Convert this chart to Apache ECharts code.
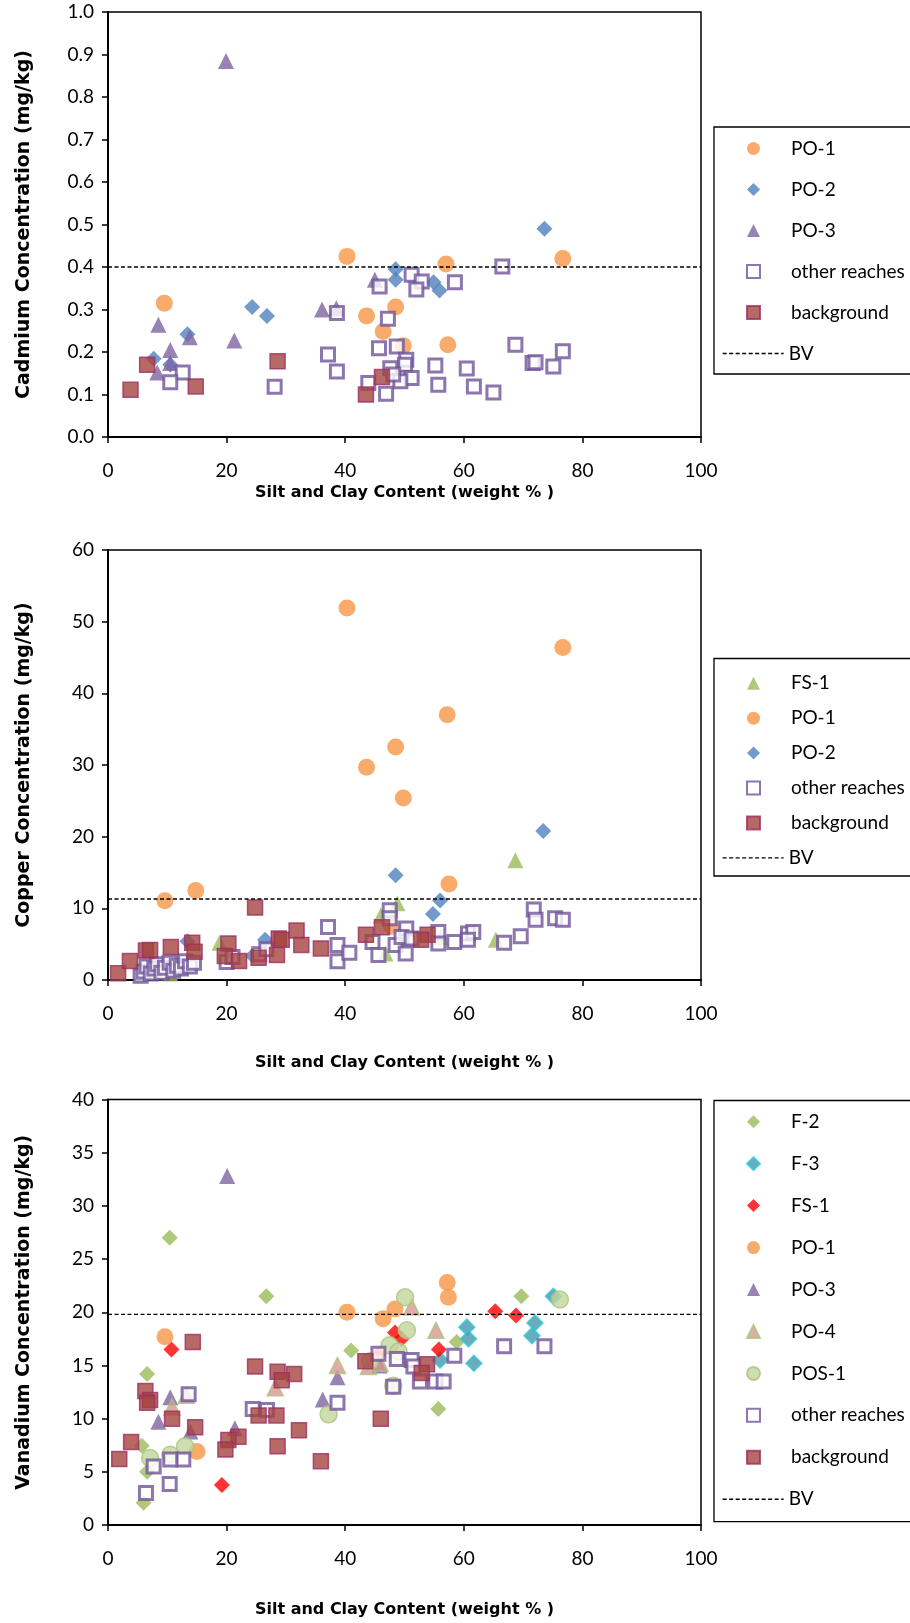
<!DOCTYPE html>
<html>
<head>
<meta charset="utf-8">
<script src="https://cdn.jsdelivr.net/npm/echarts@6.0.0/dist/echarts.min.js"></script>
<style>
  html, body { margin: 0; padding: 0; background: #fff; width: 910px; height: 1623px; overflow: hidden; }
  .panel { position: absolute; left: 0; width: 940px; }
</style>
</head>
<body>
<div id="cd" class="panel" style="top:0;height:540px"></div>
<div id="cu" class="panel" style="top:540px;height:550px"></div>
<div id="v" class="panel" style="top:1090px;height:533px"></div>
<script>
// x = silt and clay content (weight %), y = concentration (mg/kg)

// --- Cadmium ---
const cdPO1 = [[9.5,0.315],[40.3,0.425],[57.0,0.407],[76.7,0.42],[48.5,0.306],[43.6,0.285],[46.4,0.248],[49.8,0.215],[57.3,0.217]]
const cdPO2 = [[73.6,0.49],[48.5,0.395],[48.5,0.37],[54.9,0.364],[55.9,0.345],[24.3,0.306],[26.8,0.285],[13.4,0.242],[7.7,0.184],[10.5,0.17]]
const cdPO3 = [[19.9,0.885],[45.0,0.37],[36.1,0.30],[38.5,0.303],[8.5,0.264],[21.3,0.227],[13.8,0.235],[10.5,0.205],[10.5,0.174],[8.3,0.152]]
const cdOther = [[66.5,0.401],[51.2,0.382],[52.9,0.366],[52.0,0.347],[58.5,0.364],[45.8,0.354],[38.6,0.292],[47.2,0.278],
  [45.7,0.209],[48.7,0.213],[37.1,0.194],[38.6,0.154],[50.3,0.182],[50.1,0.170],[55.2,0.168],[60.5,0.161],[47.6,0.162],
  [51.2,0.139],[49.3,0.131],[43.9,0.127],[46.9,0.102],[55.7,0.123],[61.7,0.119],[65.0,0.105],[48.1,0.147],[28.1,0.118],
  [12.6,0.152],[10.5,0.129],[68.7,0.217],[76.7,0.202],[71.6,0.174],[72.1,0.176],[75.1,0.166]]
const cdBg = [[6.6,0.17],[3.8,0.111],[14.8,0.119],[28.6,0.178],[46.2,0.141],[43.5,0.1]]
const cdBV = 0.4

// --- Copper ---
const cuFS1 = [[68.7,16.7],[48.8,10.7],[18.8,5.2],[65.4,5.6],[56.1,6.0],[46.8,3.7],[10.5,0.9],[46.0,9.0]]
const cuPO1 = [[40.3,51.9],[76.7,46.4],[57.2,37.0],[48.5,32.5],[43.6,29.7],[49.8,25.4],[57.5,13.4],[14.8,12.5],[9.6,11.05],[47.8,7.5]]
const cuPO2 = [[73.4,20.8],[48.5,14.6],[56.0,11.1],[54.8,9.2],[13.4,5.4],[26.5,5.6],[24.4,3.4]]
const cuOther = [[5.5,0.6],[6.0,1.2],[6.5,1.9],[7.2,0.9],[7.8,1.6],[8.3,2.2],[9.0,1.0],[9.6,1.7],[10.4,2.4],[11.0,1.3],
  [11.6,2.0],[12.3,1.6],[13.0,2.6],[13.8,1.9],[14.5,2.4],[20.0,2.5],[21.0,3.2],[25.5,3.6],[26.7,4.3],
  [37.1,7.4],[38.7,4.9],[38.7,2.6],[40.7,3.8],[44.6,5.3],[45.6,3.5],[47.5,9.75],[47.5,8.6],[48.5,4.9],[50.2,3.7],
  [50.3,7.2],[49.5,6.0],[51.2,5.8],[55.7,6.7],[55.7,5.1],[58.4,5.3],[60.7,6.5],[61.6,6.7],[60.7,5.6],
  [66.8,5.2],[69.6,6.1],[71.8,9.85],[72.1,8.4],[75.4,8.6],[76.7,8.4]]
const cuBg = [[1.7,0.95],[3.7,2.65],[6.4,4.1],[7.1,4.2],[10.6,4.6],[14.2,5.2],[14.6,3.95],[20.3,5.1],[19.7,3.35],[22.1,2.65],
  [24.8,10.1],[25.4,3.1],[28.5,3.5],[28.8,5.8],[29.3,5.6],[31.8,6.9],[32.6,4.9],[35.9,4.4],[43.5,6.3],[46.2,7.35],[53.9,6.3],[52.8,5.6]]
const cuBV = 11.3

// --- Vanadium ---
const vF2 = [[10.4,27.0],[26.7,21.5],[69.7,21.5],[41.0,16.4],[58.8,17.2],[6.6,14.2],[55.7,10.9],[5.7,7.45],[6.6,5.0],[6.0,2.1]]
const vF3 = [[75.1,21.5],[60.5,18.6],[60.8,17.5],[72.0,19.0],[71.5,17.8],[61.7,15.2],[56.0,15.5]]
const vFS1 = [[65.3,20.1],[68.8,19.7],[48.4,18.1],[49.5,17.5],[10.7,16.5],[55.8,16.5],[45.6,16.0],[19.2,3.75]]
const vPO1 = [[57.2,22.8],[57.4,21.4],[40.3,20.0],[48.4,20.3],[46.4,19.4],[9.6,17.7],[15.0,6.9]]
const vPO3 = [[20.1,32.8],[38.7,13.9],[36.2,11.8],[10.5,12.0],[8.5,9.7],[13.9,8.8],[21.4,9.1],[45.8,15.0]]
const vPO4 = [[51.2,20.5],[55.3,18.3],[38.7,15.0],[43.9,14.9],[28.2,12.9],[13.2,12.2],[10.8,11.1],[45.9,15.2]]
const vPOS1 = [[50.1,21.4],[76.2,21.2],[50.4,18.3],[47.5,16.9],[49.0,16.3],[48.1,13.1],[37.2,10.4],[13.0,7.4],[10.5,6.6],[7.1,6.3],[44.2,15.4]]
const vOther = [[66.8,16.8],[73.6,16.8],[58.4,15.9],[45.6,16.1],[48.7,15.6],[51.2,15.5],[51.5,14.9],[52.6,13.5],[55.2,13.5],
  [56.6,13.5],[48.1,13.0],[13.6,12.3],[38.7,11.5],[24.4,10.9],[26.8,10.8],[12.7,6.15],[10.5,6.15],[7.7,5.5],[10.4,3.85],[6.4,3.0]]
const vBg = [[14.3,17.2],[24.8,14.9],[28.6,14.4],[31.4,14.2],[29.3,13.6],[43.4,15.4],[53.8,15.1],[52.9,14.3],[6.3,12.6],
  [7.1,11.75],[6.6,11.5],[10.8,10.0],[25.4,10.3],[28.4,10.3],[14.7,9.2],[32.2,8.9],[46.0,10.0],[22.0,8.3],[20.3,8.0],
  [19.8,7.1],[28.6,7.4],[3.9,7.8],[1.9,6.2],[35.9,6.0]]
const vBV = 19.8

const FONT = 'Lato, "Liberation Sans", sans-serif'
const TITLE_FONT = '"DejaVu Sans", Lato, sans-serif'
const ROW_H = 20

// marker looks (Excel default palette)
const orangeCircle = { symbol: 'circle', symbolSize: 17, itemStyle: { color: '#F79646' } }
const blueDiamond = { symbol: 'diamond', symbolSize: 16, itemStyle: { color: '#4F81BD' } }
const purpleTri = { symbol: 'triangle', symbolSize: 16, itemStyle: { color: '#8064A2' } }
const greenTri = { symbol: 'triangle', symbolSize: 16, itemStyle: { color: '#9BBB59' } }
const greenDiamond = { symbol: 'diamond', symbolSize: 16, itemStyle: { color: '#9BBB59' } }
const tealDiamond = { symbol: 'diamond', symbolSize: 16, itemStyle: { color: '#4397AE', borderColor: '#33CCDD', borderWidth: 1.5 } }
const redDiamond = { symbol: 'diamond', symbolSize: 16, itemStyle: { color: '#FF0000' } }
const pinkTri = { symbol: 'triangle', symbolSize: 16, itemStyle: { color: '#D99694', borderColor: '#A9C47F', borderWidth: 1.5 } }
const paleCircle = { symbol: 'circle', symbolSize: 17, itemStyle: { color: '#C3D69B', borderColor: '#A9C47F', borderWidth: 1.5 } }
const openSquare = { symbol: 'rect', symbolSize: 13, itemStyle: { color: '#fff', borderColor: '#6E5499', borderWidth: 3 } }
const bgSquare = { symbol: 'rect', symbolSize: 15, itemStyle: { color: '#A5443F', borderColor: '#9B2F63', borderWidth: 1.5 } }

function scatter(name, data, look) {
  return Object.assign({ name, type: 'scatter', data, silent: true }, look)
}

function bvLine(v) {
  return {
    name: 'BV', type: 'line', data: [[0, v], [100, v]], symbol: 'none', silent: true,
    lineStyle: { color: '#000', width: 1.4, type: [4, 2.5] }, itemStyle: { color: 'rgba(0,0,0,0)' },
  }
}

function makeOption(cfg) {
  const markerNames = cfg.series.filter(s => s.type === 'scatter').map(s => s.name)
  const n = markerNames.length
  const legendText = { fontFamily: FONT, fontSize: 19, color: '#000', lineHeight: ROW_H }
  return {
    animation: false,
    textStyle: { fontFamily: FONT },
    grid: {
      left: 108, top: cfg.gridTop, width: 593, height: cfg.gridHeight,
      show: true, borderColor: '#000', borderWidth: 1.5,
    },
    legend: [
      {
        // marker entries: small square icon box so symbols keep their shape
        orient: 'vertical', left: 746, top: cfg.rowTop - ROW_H / 2, padding: 0,
        data: markerNames, itemWidth: 13, itemHeight: 13, itemGap: cfg.rowStep - ROW_H,
        textStyle: Object.assign({ padding: [0, 0, 0, 26] }, legendText),
        selectedMode: false,
      },
      {
        // dashed BV entry, wider icon
        orient: 'vertical', left: 722, top: cfg.rowTop + n * cfg.rowStep - ROW_H / 2, padding: 0,
        data: ['BV'], itemWidth: 61, itemHeight: 13,
        lineStyle: { type: [4, 2.5], width: 1.3, color: '#000' },
        textStyle: legendText,
        selectedMode: false,
      },
    ],
    graphic: [{
      type: 'rect', silent: true,
      shape: { x: 714, y: cfg.boxTop, width: 240, height: cfg.boxBottom - cfg.boxTop },
      style: { fill: 'none', stroke: '#000', lineWidth: 1.3 },
    }],
    xAxis: {
      type: 'value', min: 0, max: 100, interval: 20,
      name: 'Silt and Clay Content (weight % )', nameLocation: 'middle', nameGap: cfg.xNameGap,
      nameTextStyle: { fontFamily: TITLE_FONT, fontSize: 16, fontWeight: 'bold', color: '#000' },
      axisLine: { lineStyle: { color: '#000', width: 2 } },
      axisTick: { length: 6, lineStyle: { color: '#000', width: 1.5 } },
      axisLabel: { color: '#000', fontSize: 19, margin: 24, fontFamily: FONT },
      splitLine: { show: false },
    },
    yAxis: {
      type: 'value', min: 0, max: cfg.yMax, interval: cfg.yStep,
      name: cfg.yName, nameLocation: 'middle', nameGap: 74,
      nameTextStyle: { fontFamily: TITLE_FONT, fontSize: 19, fontWeight: 'bold', color: '#000' },
      axisLine: { show: true, lineStyle: { color: '#000', width: 2 } },
      axisTick: { show: true, length: 6, lineStyle: { color: '#000', width: 1.5 } },
      axisLabel: { color: '#000', fontSize: 19, margin: 14, fontFamily: FONT, formatter: cfg.fmt },
      splitLine: { show: false },
    },
    series: cfg.series,
  }
}

const cdChart = echarts.init(document.getElementById('cd'))
cdChart.setOption(makeOption({
  gridTop: 12, gridHeight: 425, yMax: 1, yStep: 0.1, xNameGap: 44,
  yName: 'Cadmium Concentration (mg/kg)', fmt: v => v.toFixed(1),
  boxTop: 127, boxBottom: 374, rowTop: 148.5, rowStep: 41,
  series: [
    scatter('PO-1', cdPO1, orangeCircle),
    scatter('PO-2', cdPO2, blueDiamond),
    scatter('PO-3', cdPO3, purpleTri),
    scatter('other reaches', cdOther, openSquare),
    scatter('background', cdBg, bgSquare),
    bvLine(cdBV),
  ],
}))

const cuChart = echarts.init(document.getElementById('cu'))
cuChart.setOption(makeOption({
  gridTop: 10, gridHeight: 430, yMax: 60, yStep: 10, xNameGap: 75,
  yName: 'Copper Concentration (mg/kg)', fmt: v => String(v),
  boxTop: 118.5, boxBottom: 336, rowTop: 143.3, rowStep: 34.9,
  series: [
    scatter('FS-1', cuFS1, greenTri),
    scatter('PO-1', cuPO1, orangeCircle),
    scatter('PO-2', cuPO2, blueDiamond),
    scatter('other reaches', cuOther, openSquare),
    scatter('background', cuBg, bgSquare),
    bvLine(cuBV),
  ],
}))

const vChart = echarts.init(document.getElementById('v'))
vChart.setOption(makeOption({
  gridTop: 3, gridHeight: 434, yMax: 40, yStep: 5, xNameGap: 77,
  yName: 'Vanadium Concentration (mg/kg)', fmt: v => String(v),
  boxTop: 10.5, boxBottom: 431.7, rowTop: 31.7, rowStep: 41.95,
  series: [
    scatter('F-2', vF2, greenDiamond),
    scatter('F-3', vF3, tealDiamond),
    scatter('FS-1', vFS1, redDiamond),
    scatter('PO-1', vPO1, orangeCircle),
    scatter('PO-3', vPO3, purpleTri),
    scatter('PO-4', vPO4, pinkTri),
    scatter('POS-1', vPOS1, paleCircle),
    scatter('other reaches', vOther, openSquare),
    scatter('background', vBg, bgSquare),
    bvLine(vBV),
  ],
}))
</script>
</body>
</html>
